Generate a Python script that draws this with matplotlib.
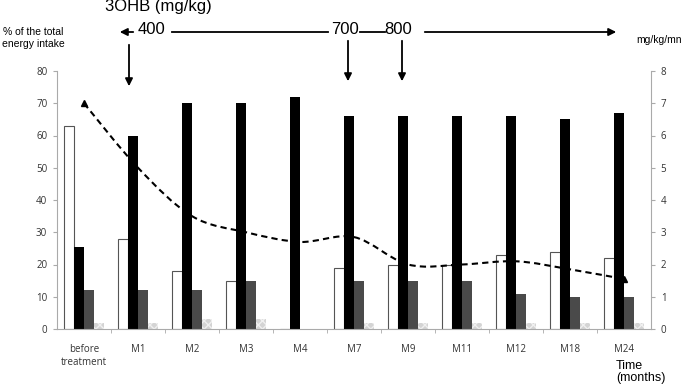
import numpy as np
import matplotlib
matplotlib.use("Agg")
import matplotlib.pyplot as plt
from matplotlib.path import Path
from matplotlib.patches import PathPatch

# data
months = ["before\ntreatment", "M1", "M2", "M3", "M4", "M7", "M9", "M11", "M12", "M18", "M24"]
carbs = [63, 28, 18, 15, 0, 19, 20, 20, 23, 24, 22]
fat = [25.5, 60, 70, 70, 72, 66, 66, 66, 66, 65, 67]
protein = [12, 12, 12, 15, 0, 15, 15, 15, 11, 10, 10]
fibre = [2, 2, 3, 3, 0, 2, 2, 2, 2, 2, 2]
glucose_rate = [7.0, 5.0, 3.5, 3.0, 2.7, 2.85, 2.0, 2.0, 2.1, 1.85, 1.55]

W, H = 685, 385
fig = plt.figure(figsize=(W / 100, H / 100), dpi=100)
ax = fig.add_axes([57 / W, 1 - 329 / H, 594 / W, 258 / H])

def px(x, y):
    # pixel position -> figure fraction
    return (x / W, 1 - y / H)

x = np.arange(len(months))
w = 0.185
ax.bar(x - 1.5 * w, carbs, w, color="white", edgecolor="#555555", linewidth=0.8, zorder=2)
ax.bar(x - 0.5 * w, fat, w, color="black", linewidth=0, zorder=2)
ax.bar(x + 0.5 * w, protein, w, color="#4a4a4a", linewidth=0, zorder=2)
ax.bar(x + 1.5 * w, fibre, w, color="#d4d4d4", edgecolor="#f0f0f0", hatch="xxxx", linewidth=0, zorder=2)

ax.set_xlim(-0.5, len(months) - 0.5)
ax.set_ylim(0, 80)
ax.set_yticks(range(0, 81, 10))
ax.set_xticks(x)
ax.set_xticklabels(months, fontsize=7, color="#333333", family="Open Sans", linespacing=1.25)
ax.set_xticks(np.arange(0.5, len(months) - 0.5, 1), minor=True)
ax.tick_params(axis="x", which="major", length=0, pad=11)
ax.tick_params(axis="x", which="minor", length=3, color="#aaaaaa")
ax.tick_params(axis="y", length=3, color="#aaaaaa", labelsize=7, labelcolor="#333333", pad=4)
for lab in ax.get_yticklabels():
    lab.set_family("Open Sans")
for s in ["top", "right"]:
    ax.spines[s].set_visible(False)
for s in ["left", "bottom"]:
    ax.spines[s].set_color("#aaaaaa")
    ax.spines[s].set_linewidth(0.8)

ax2 = ax.twinx()
ax2.set_ylim(0, 8)
ax2.set_yticks(range(0, 9))
ax2.tick_params(axis="y", length=3, color="#aaaaaa", labelsize=7, labelcolor="#333333", pad=4)
for lab in ax2.get_yticklabels():
    lab.set_family("Open Sans")
for s in ["top", "left", "bottom"]:
    ax2.spines[s].set_visible(False)
ax2.spines["right"].set_color("#aaaaaa")
ax2.spines["right"].set_linewidth(0.8)

# smoothed line like excel (catmull-rom bezier through the points)
pts = np.column_stack([x, glucose_rate]).astype(float)
ext = np.vstack([pts[0], pts, pts[-1]])
verts = [pts[0]]
codes = [Path.MOVETO]
for i in range(len(pts) - 1):
    p0, p1, p2, p3 = ext[i], ext[i + 1], ext[i + 2], ext[i + 3]
    verts += [p1 + (p2 - p0) / 6, p2 - (p3 - p1) / 6, p2]
    codes += [Path.CURVE4] * 3
ax2.add_patch(PathPatch(Path(verts, codes), fill=False, edgecolor="black",
                        linewidth=1.5, linestyle=(0, (3, 2)), zorder=3))
ax2.plot(x, glucose_rate, linestyle="none", marker="^", markersize=4, color="black",
         markevery=[0, len(x) - 1], zorder=4)

# texts
fig.text(*px(33, 38), "% of the total\nenergy intake", ha="center", va="center",
         fontsize=7.5, family="Liberation Sans", linespacing=1.2)
fig.text(*px(636, 40), "mg/kg/mn", ha="left", va="center", fontsize=7.5, family="Liberation Sans")
fig.text(*px(616, 372), "Time\n(months)", ha="left", va="center", fontsize=9, family="Liberation Sans",
         linespacing=1.05)

big = dict(fontsize=12, family="Liberation Sans", va="center", ha="center")
fig.text(*px(158, 7), "3OHB (mg/kg)", **big)
fig.text(*px(152, 30), "400", **big)
fig.text(*px(345, 30), "700", **big)
fig.text(*px(398, 30), "800", **big)

arr = dict(arrowstyle="-|>", color="black", lw=1.3, mutation_scale=11)
fig.add_artist(matplotlib.patches.FancyArrowPatch(px(136, 32), px(117, 32), **arr))
fig.add_artist(matplotlib.patches.FancyArrowPatch(px(422, 32), px(619, 32), **arr))
fig.add_artist(matplotlib.lines.Line2D([172 / W, 328 / W], [1 - 32 / H] * 2, color="black", lw=1.3))
fig.add_artist(matplotlib.lines.Line2D([360 / W, 385 / W], [1 - 32 / H] * 2, color="black", lw=1.3))
fig.add_artist(matplotlib.patches.FancyArrowPatch(px(129, 42), px(129, 89), **arr))
fig.add_artist(matplotlib.patches.FancyArrowPatch(px(348, 38), px(348, 84), **arr))
fig.add_artist(matplotlib.patches.FancyArrowPatch(px(402, 38), px(402, 84), **arr))

fig.savefig("out.png", dpi=100)
